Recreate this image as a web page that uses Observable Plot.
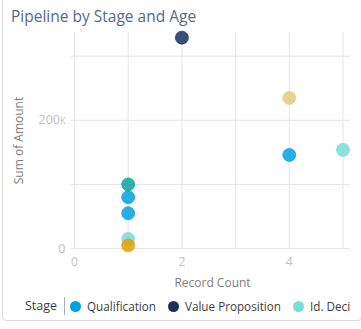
<!DOCTYPE html>
<html><head><meta charset="utf-8">
<script src="https://cdn.jsdelivr.net/npm/d3@7"></script>
<script src="https://cdn.jsdelivr.net/npm/@observablehq/plot@0.6"></script>
<style>
html,body{margin:0;padding:0;background:#fff;width:361px;height:329px;overflow:hidden;font-family:"Open Sans",sans-serif;}
#card{position:absolute;left:2px;top:-6px;width:360px;height:327px;border:1px solid #dddbda;border-radius:4px;box-sizing:border-box;}
#title{position:absolute;left:11px;top:5px;font-size:15.5px;color:#54698d;white-space:nowrap;}
#chart{position:absolute;left:0;top:0;}
#legend{position:absolute;left:0;top:297px;width:350px;height:20px;overflow:hidden;white-space:nowrap;font-size:11.7px;color:#3e3e3c;}
#legend .stage{position:absolute;left:25px;top:0;line-height:18px;font-size:12.5px;}
#legend .sep{position:absolute;left:64px;top:-1px;width:1px;height:19px;background:#b0adab;}
#legend .items{position:absolute;left:70px;top:0;line-height:18px;}
#legend .item{display:inline-block;margin-right:12px;}
#legend .dot{display:inline-block;width:11px;height:11px;border-radius:50%;vertical-align:-1px;margin-right:6px;}
</style>
</head><body>
<div id="card"></div>
<div id="title">Pipeline by Stage and Age</div>
<div id="chart"></div>
<div id="legend"><span class="stage">Stage</span><span class="sep"></span><span class="items"></span></div>
<script>
const stages = ["Qualification","Value Proposition","Id. Decision Makers","Perception Analysis","Proposal/Price Quote","Negotiation/Review"];
const stageColors = ["#00a1e0","#16325c","#76ded9","#08a69e","#e2ce7d","#e69f00"];
const legendStages = ["Qualification","Value Proposition","Id. Decision Makers"];
const pointStage = ["Value Proposition","Proposal/Price Quote","Qualification","Id. Decision Makers","Perception Analysis","Qualification","Qualification","Id. Decision Makers","Negotiation/Review"];
const recordCount = [2,4,4,5,1,1,1,1,1];
const sumAmount = [329000,235000,146000,154000,100000,80000,55000,15000,5000];
const xTicks = [0,2,4];
const yTicks = [0,200000];
const xGrid = [0,1,2,3,4,5];
const yGrid = [0,100000,200000,300000];

const data = pointStage.map((s,i)=>({stage:s,count:recordCount[i],amount:sumAmount[i]}));

const chart = Plot.plot({
  width:361, height:295,
  marginLeft:74, marginRight:11, marginTop:32, marginBottom:47,
  style:{fontFamily:"'Open Sans',sans-serif", fontSize:"12px", color:"#c2c0be", background:"transparent"},
  x:{domain:[0,5.14]},
  y:{domain:[0,337000]},
  color:{domain:stages, range:stageColors},
  marks:[
    Plot.gridX(xGrid,{stroke:"#e5e5e5",strokeOpacity:1}),
    Plot.gridY(yGrid,{stroke:"#e5e5e5",strokeOpacity:1,x1:-0.07}),
    Plot.axisX({ticks:xTicks, tickSize:0, tickPadding:9, tickFormat:d=>String(d), label:"Record Count", labelAnchor:"center", labelArrow:"none", labelOffset:38, fontSize:12}),
    Plot.axisY({ticks:yTicks, tickSize:0, tickPadding:9, tickFormat:d=>d===0?"0":(d/1000)+"k", label:"Sum of Amount", labelAnchor:"center", labelArrow:"none", labelOffset:60, fontSize:12.5}),
    Plot.dot(data,{x:"count",y:"amount",fill:"stage",stroke:"stage",r:6.5,fillOpacity:0.85,strokeOpacity:0.9,strokeWidth:0.8})
  ]
});
document.getElementById("chart").appendChild(chart);
chart.querySelectorAll("[aria-label='y-axis tick label'] text").forEach(t=>{t.style.fontVariant="small-caps";});
chart.querySelectorAll("[aria-label='x-axis label'] text, [aria-label='y-axis label'] text").forEach(t=>{t.setAttribute("fill","#807e7c");t.style.fontSize="12px";});

const items = document.querySelector("#legend .items");
legendStages.forEach(s=>{
  const it=document.createElement("span");it.className="item";
  const d=document.createElement("span");d.className="dot";d.style.background=stageColors[stages.indexOf(s)];
  it.appendChild(d);it.appendChild(document.createTextNode(s));items.appendChild(it);
});
</script>
</body></html>
